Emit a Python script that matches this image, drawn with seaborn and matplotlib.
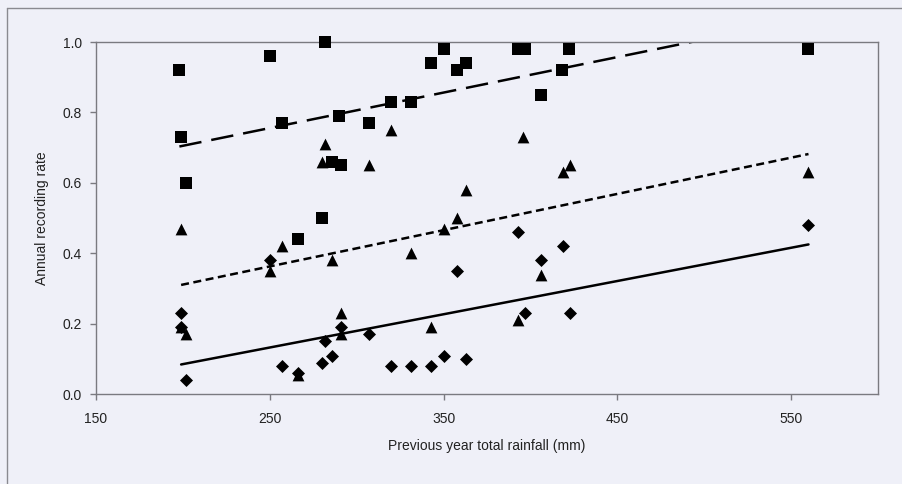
import pandas as pd
import seaborn as sns
import matplotlib.pyplot as plt
from matplotlib.lines import Line2D

# rainfall (mm) vs annual recording rate, three groups
sq_x = [198, 250, 282, 290, 257, 307, 199, 202, 286, 291, 350, 343, 363, 358,
        393, 397, 422, 418, 406, 320, 331, 266, 280, 560]
sq_y = [0.92, 0.96, 1.00, 0.79, 0.77, 0.77, 0.73, 0.60, 0.66, 0.65, 0.98, 0.94, 0.94, 0.92,
        0.98, 0.98, 0.98, 0.92, 0.85, 0.83, 0.83, 0.44, 0.50, 0.98]

tri_x = [282, 280, 307, 320, 396, 423, 419, 363, 199, 257, 250, 286, 202, 291,
         291, 266, 358, 350, 331, 406, 393, 343, 560, 199]
tri_y = [0.71, 0.66, 0.65, 0.75, 0.73, 0.65, 0.63, 0.58, 0.47, 0.42, 0.35, 0.38, 0.17, 0.23,
         0.17, 0.055, 0.50, 0.47, 0.40, 0.34, 0.21, 0.19, 0.63, 0.19]

dia_x = [250, 199, 199, 202, 291, 307, 282, 286, 280, 257, 266, 393, 419, 406,
         358, 397, 423, 320, 331, 343, 350, 363, 560]
dia_y = [0.38, 0.23, 0.19, 0.04, 0.19, 0.17, 0.15, 0.11, 0.09, 0.08, 0.06, 0.46, 0.42, 0.38,
         0.35, 0.23, 0.23, 0.08, 0.08, 0.08, 0.11, 0.10, 0.48]

x_ticks = [150, 250, 350, 450, 550]
y_ticks = [0.0, 0.2, 0.4, 0.6, 0.8, 1.0]

df = pd.concat([
    pd.DataFrame({'rain': sq_x, 'rate': sq_y, 'grp': 'sq'}),
    pd.DataFrame({'rain': tri_x, 'rate': tri_y, 'grp': 'tri'}),
    pd.DataFrame({'rain': dia_x, 'rate': dia_y, 'grp': 'dia'}),
])

bg = '#eff0f8'
sns.set_style('ticks')
plt.rcParams['font.family'] = ['Liberation Sans', 'DejaVu Sans']

fig = plt.figure(figsize=(9.02, 4.84), dpi=100, facecolor=bg)
ax = fig.add_axes([0.1064, 0.1853, 0.8670, 0.7279])
ax.set_facecolor(bg)

# outer chart frame (left and top edges visible)
fig.add_artist(Line2D([7 / 902, 7 / 902], [0, 1 - 8 / 484], color='#8a8a90', lw=1.0))
fig.add_artist(Line2D([7 / 902, 1], [1 - 8 / 484, 1 - 8 / 484], color='#8a8a90', lw=1.0))

sizes = {'sq': 72, 'tri': 72, 'dia': 44}
markers = {'sq': 's', 'tri': '^', 'dia': 'D'}
for g in ['sq', 'tri', 'dia']:
    sub = df[df.grp == g]
    sns.scatterplot(x='rain', y='rate', data=sub, marker=markers[g], s=sizes[g],
                    color='black', edgecolor='black', linewidth=0, ax=ax, zorder=3,
                    clip_on=False)

lines = {'sq': dict(dashes=(9, 4)), 'tri': dict(dashes=(3.2, 1.8)), 'dia': dict()}
for g in ['sq', 'tri', 'dia']:
    sub = df[df.grp == g]
    sns.regplot(x='rain', y='rate', data=sub, scatter=False, ci=None, ax=ax,
                color='black', line_kws=dict(lw=1.8, zorder=2, **lines[g]))

ax.set_xlim(150, 600)
ax.set_ylim(0, 1.0)
ax.set_xticks(x_ticks)
ax.set_yticks(y_ticks)
ax.set_yticklabels([f'{v:.1f}' for v in y_ticks])
for sp in ax.spines.values():
    sp.set_visible(True)
    sp.set_color('#7a7a80')
    sp.set_linewidth(1.0)
ax.tick_params(axis='both', direction='out', length=4, width=1.0, color='#7a7a80',
               labelsize=10, labelcolor='#222222')
ax.tick_params(axis='y', pad=6)
ax.tick_params(axis='x', pad=9)

ax.set_xlabel('Previous year total rainfall (mm)', fontsize=10, color='#222222', labelpad=9)
ax.set_ylabel('Annual recording rate', fontsize=10, color='#222222', labelpad=10)

fig.savefig('out.png', dpi=100, facecolor=bg)
